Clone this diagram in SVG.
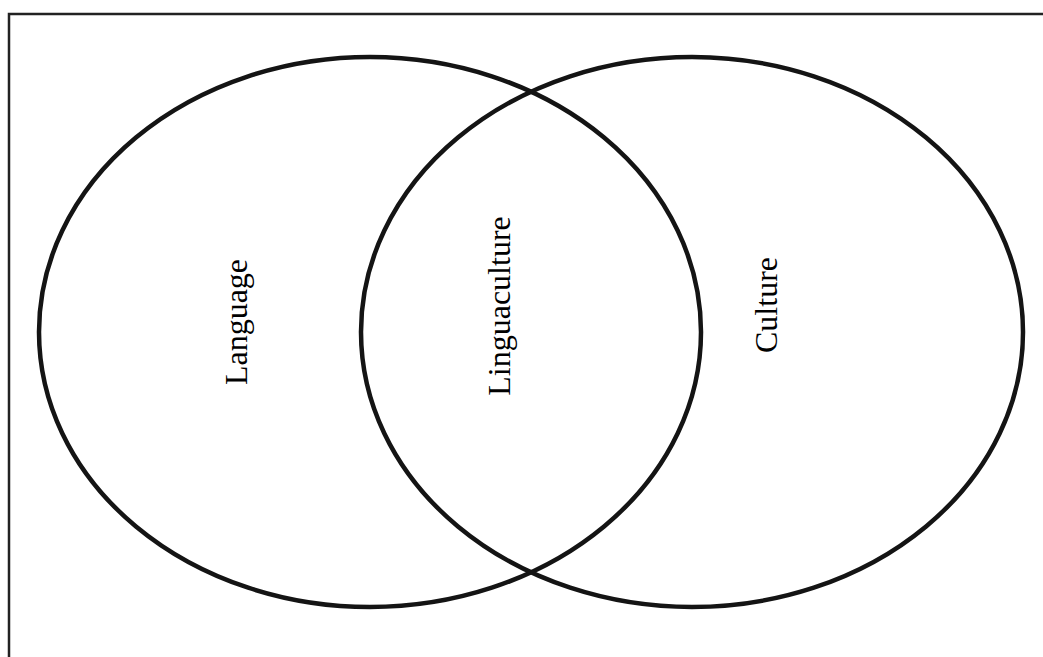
<svg xmlns="http://www.w3.org/2000/svg" width="1043" height="657" viewBox="0 0 1043 657">
<style>
.ring{fill:none;stroke:#141414;stroke-width:4.5}
.lbl{font-family:"Liberation Serif","Times New Roman",serif;font-size:32px;fill:#000;text-anchor:middle}
.frame{fill:none;stroke:#222;stroke-width:2.5}
</style>
<rect width="1043" height="657" fill="#fff"/>
<path class="frame" d="M9,657 V14 H1043"/>
<g id="language">
<ellipse class="ring" cx="370" cy="332" rx="331" ry="275"/>
<text class="lbl" transform="translate(247,322) rotate(-90)">Language</text>
</g>
<g id="culture">
<ellipse class="ring" cx="692" cy="332" rx="331" ry="275"/>
<text class="lbl" transform="translate(777,305) rotate(-90)">Culture</text>
</g>
<g id="linguaculture">
<text class="lbl" transform="translate(510,306) rotate(-90)">Linguaculture</text>
</g>
<g id="connectors"/>
</svg>
